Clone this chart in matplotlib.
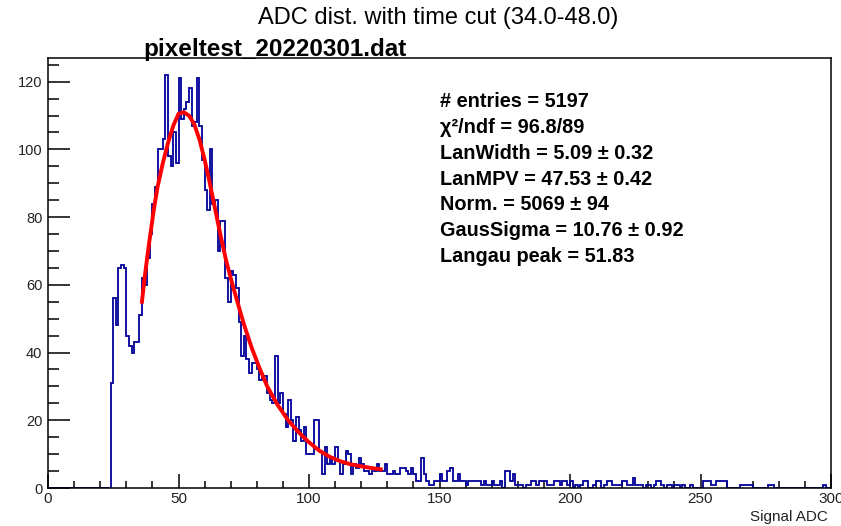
import numpy as np
import matplotlib
matplotlib.use('Agg')
import matplotlib.pyplot as plt
from matplotlib.ticker import MultipleLocator

# histogram: 300 bins of width 1 ADC, range 0-300
bin_edges_lo = 0
bin_edges_hi = 300
counts = [
    0, 0, 0, 0, 0, 0, 0, 0, 0, 0,                  # 0-9
    0, 0, 0, 0, 0, 0, 0, 0, 0, 0,                  # 10-19
    0, 0, 0, 0, 31, 56, 48, 65, 66, 65,            # 20-29
    45, 42, 40, 43, 43, 51, 62, 60, 68, 75,        # 30-39
    84, 89, 100, 100, 103, 122, 98, 95, 105, 96,   # 40-49
    121, 109, 112, 114, 118, 107, 108, 121, 107, 97,  # 50-59
    88, 82, 100, 84, 85, 70, 79, 79, 62, 55,       # 60-69
    64, 63, 59, 49, 39, 45, 38, 34, 37, 37,        # 70-79
    35, 32, 33, 33, 28, 26, 25, 39, 25, 28,        # 80-89
    22, 18, 26, 20, 14, 21, 17, 14, 18, 10,        # 90-99
    10, 10, 20, 20, 11, 4, 12, 7, 9, 7,            # 100-109
    12, 8, 4, 7, 11, 10, 4, 7, 6, 9,               # 110-119
    7, 5, 5, 4, 6, 5, 7, 5, 5, 7,                  # 120-129
    4, 4, 5, 4, 4, 6, 6, 5, 4, 6,                  # 130-139
    4, 2, 2, 9, 4, 2, 1, 1, 2, 2,                  # 140-149
    4, 2, 2, 5, 6, 2, 2, 4, 2, 2,                  # 150-159
    1, 2, 2, 2, 2, 2, 1, 2, 1, 1,                  # 160-169
    2, 1, 1, 2, 0, 5, 5, 2, 4, 1,                  # 170-179
    1, 1, 0, 1, 1, 2, 2, 1, 2, 2,                  # 180-189
    2, 1, 1, 1, 2, 2, 1, 2, 2, 1,                  # 190-199
    2, 0, 1, 0, 1, 2, 2, 0, 0, 1,                  # 200-209
    2, 2, 0, 1, 2, 2, 1, 1, 1, 1,                  # 210-219
    2, 2, 1, 1, 3, 1, 1, 1, 0, 1,                  # 220-229
    1, 0, 1, 2, 2, 1, 0, 1, 1, 0,                  # 230-239
    1, 1, 0, 1, 0, 0, 1, 0, 0, 0,                  # 240-249
    0, 2, 2, 2, 1, 1, 2, 2, 2, 2,                  # 250-259
    0, 0, 0, 0, 0, 1, 1, 1, 1, 1,                  # 260-269
    0, 0, 0, 0, 0, 0, 1, 1, 0, 0,                  # 270-279
    0, 0, 0, 0, 0, 0, 0, 0, 0, 0,                  # 280-289
    0, 0, 0, 0, 0, 0, 0, 1, 0, 0,                  # 290-299
]

# langau fit curve
fit_x = [36, 37, 38.5, 40.5, 42, 44, 46, 48, 50, 52, 54, 56, 58, 60, 62, 64,
         66, 68, 70, 72, 75, 78, 81, 84, 88, 92, 96, 100, 104, 108, 112, 116,
         120, 124, 127.5]
fit_y = [55, 62, 71, 82, 89, 96, 102, 107, 110.5, 111, 110, 107.5, 103, 97,
         90, 82.5, 75, 68, 62, 56.5, 48.5, 41.5, 35.5, 30, 24.5, 20, 16.5,
         13.5, 11, 9.2, 7.9, 7, 6.4, 5.9, 5.5]

title = 'ADC dist. with time cut (34.0-48.0)'
file_label = 'pixeltest_20220301.dat'
stats_lines = [
    '# entries = 5197',
    '\u03c7\u00b2/ndf = 96.8/89',
    'LanWidth = 5.09 \u00b1 0.32',
    'LanMPV = 47.53 \u00b1 0.42',
    'Norm. = 5069 \u00b1 94',
    'GausSigma = 10.76 \u00b1 0.92',
    'Langau peak = 51.83',
]
x_title = 'Signal ADC'

plt.rcParams['font.family'] = ['Liberation Sans', 'DejaVu Sans']

W, H = 841, 526
fig = plt.figure(figsize=(W / 100, H / 100), dpi=100)

# frame in pixels: left 48, right 831, top 58, bottom 488
ax = fig.add_axes([48 / W, 1 - 488 / H, (831 - 48) / W, (488 - 58) / H])

edges = np.arange(bin_edges_lo, bin_edges_hi + 1)
ax.stairs(counts, edges, color='#000099', lw=1.3, zorder=2)
ax.plot(fit_x, fit_y, color='#ff0000', lw=2.8, zorder=3)

ax.set_xlim(0, 300)
ax.set_ylim(0, 127)

for s in ax.spines.values():
    s.set_linewidth(1.1)
    s.set_zorder(4)

ax.xaxis.set_major_locator(MultipleLocator(50))
ax.xaxis.set_minor_locator(MultipleLocator(10))
ax.yaxis.set_major_locator(MultipleLocator(20))
ax.yaxis.set_minor_locator(MultipleLocator(5))
ax.tick_params(axis='x', which='major', direction='in', length=10, width=1.1,
               labelsize=11, pad=3, labelcolor='#222222')
ax.tick_params(axis='x', which='minor', direction='in', length=5, width=1.1)
ax.tick_params(axis='y', which='major', direction='in', length=16, width=1.1,
               labelsize=10.5, pad=4, labelcolor='#222222')
ax.tick_params(axis='y', which='minor', direction='in', length=8, width=1.1)

# titles
fig.text(438 / W, 1 - 18 / H, title, ha='center', va='center', fontsize=17)
fig.text(143 / W, 1 - 56 / H, file_label, ha='left', va='baseline',
         fontsize=17.5, fontweight='bold')

# fit stats block
for i, line in enumerate(stats_lines):
    y_px = 101.7 + i * 25.8
    fig.text(440 / W, 1 - y_px / H, line, ha='left', va='center',
             fontsize=14.3, fontweight='bold')

fig.text(828 / W, 1 - 517 / H, x_title, ha='right', va='center', fontsize=11,
         color='#222222')

fig.savefig('out.png', dpi=100)
